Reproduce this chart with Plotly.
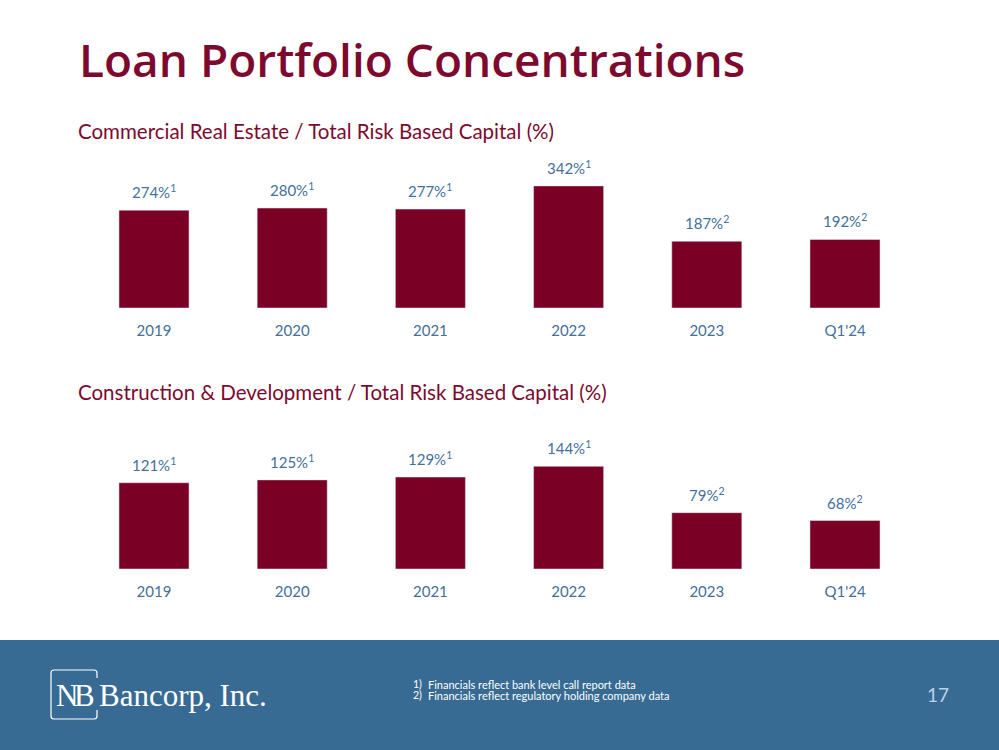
import plotly.graph_objects as go

# ---- data ----
categories = ["2019", "2020", "2021", "2022", "2023", "Q1'24"]
cre_values = [274, 280, 277, 342, 187, 192]
cre_notes = ["1", "1", "1", "1", "2", "2"]
cd_values = [121, 125, 129, 144, 79, 68]
cd_notes = ["1", "1", "1", "1", "2", "2"]

title_text = "Loan Portfolio Concentrations"
sub1_text = "Commercial Real Estate / Total Risk Based Capital (%)"
sub2_text = "Construction & Development / Total Risk Based Capital (%)"
footnotes = ["Financials reflect bank level call report data",
             "Financials reflect regulatory holding company data"]
page_no = "17"

# ---- styling ----
W, H = 999, 750
BAR = "#7A0026"
MAROON = "#7D0A2E"
BLUE_TXT = "#44709A"
FOOTER = "#386B94"
FONT = "Lato"

def px(x):
    return x / W

def py(y):
    return 1 - y / H

fig = go.Figure()

fig.add_trace(go.Bar(x=categories, y=cre_values, marker_color=BAR,
                     xaxis="x", yaxis="y", hoverinfo="skip"))
fig.add_trace(go.Bar(x=categories, y=cd_values, marker_color=BAR,
                     xaxis="x2", yaxis="y2", hoverinfo="skip"))

xdom = [px(84.9), px(914.1)]
axis_common = dict(showgrid=False, zeroline=False, showline=False, fixedrange=True)

fig.update_layout(
    width=W, height=H,
    margin=dict(l=0, r=0, t=0, b=0),
    paper_bgcolor="white", plot_bgcolor="rgba(0,0,0,0)",
    showlegend=False,
    bargap=0.493,
    font=dict(family=FONT, color=BLUE_TXT),
    xaxis=dict(domain=xdom, anchor="y", type="category", range=[-0.5, 5.5],
               ticks="", ticklabelstandoff=12,
               tickfont=dict(family=FONT, size=15, color=BLUE_TXT), **axis_common),
    yaxis=dict(domain=[py(308), py(150)], anchor="x", range=[0, 158 / 0.357],
               showticklabels=False, **axis_common),
    xaxis2=dict(domain=xdom, anchor="y2", type="category", range=[-0.5, 5.5],
                ticks="", ticklabelstandoff=12,
                tickfont=dict(family=FONT, size=15, color=BLUE_TXT), **axis_common),
    yaxis2=dict(domain=[py(569), py(440)], anchor="x2", range=[0, 129 / 0.713],
                showticklabels=False, **axis_common),
)

ann = []
# value labels (x given as category index so numeric-looking names stay categories)
for xr, yr, vals, notes in (("x", "y", cre_values, cre_notes), ("x2", "y2", cd_values, cd_notes)):
    for i, (v, n) in enumerate(zip(vals, notes)):
        ann.append(dict(x=i, y=v, xref=xr, yref=yr, text=f"{v}%<sup>{n}</sup>",
                        showarrow=False, yanchor="bottom", yshift=7,
                        font=dict(family=FONT, size=15, color=BLUE_TXT)))

def label(x, y, text, size, color, family=FONT, weight=None, anchor="left"):
    f = dict(family=family, size=size, color=color)
    if weight:
        f["weight"] = weight
    ann.append(dict(x=px(x), y=py(y), xref="paper", yref="paper", text=text,
                    xanchor=anchor, yanchor="middle", showarrow=False, borderpad=0,
                    font=f))

# title & subtitles
label(78, 59, title_text, 46, MAROON, family="Open Sans", weight=600)
label(77, 131, sub1_text, 20.5, MAROON)
label(77, 392, sub2_text, 20.5, MAROON)

# footnotes
for i, t in enumerate(footnotes):
    yy = 684 + i * 11
    label(412, yy, f"{i+1})", 10.5, "white")
    label(427, yy, t, 11, "white")

# page number
label(938, 694, page_no, 19, "#BCD0E4", anchor="center")

# logo text
label(55, 695, "N", 31, "white", family="Liberation Serif")
label(73, 695, "B", 31, "white", family="Liberation Serif")
label(98, 695, "Bancorp, Inc.", 31, "white", family="Liberation Serif")

fig.update_layout(annotations=ann)

shapes = [
    dict(type="rect", xref="paper", yref="paper", x0=0, x1=1, y0=0, y1=py(640),
         fillcolor=FOOTER, line_width=0, layer="below"),
]
# logo bracket box
def P(x, y):
    return f"{px(x)},{py(y)}"
box = (f"M {P(97, 678)} L {P(97, 673)} Q {P(97, 670)} {P(94, 670)} "
       f"L {P(54, 670)} Q {P(51, 670)} {P(51, 673)} L {P(51, 716)} "
       f"Q {P(51, 719)} {P(54, 719)} L {P(94, 719)} Q {P(97, 719)} {P(97, 716)} L {P(97, 710)}")
shapes.append(dict(type="path", xref="paper", yref="paper", path=box,
                   line=dict(color="white", width=1.2)))
fig.update_layout(shapes=shapes)

fig.write_html("out.html", config={"displayModeBar": False},
               post_script="document.body.style.margin='0';document.body.style.overflow='hidden';")
